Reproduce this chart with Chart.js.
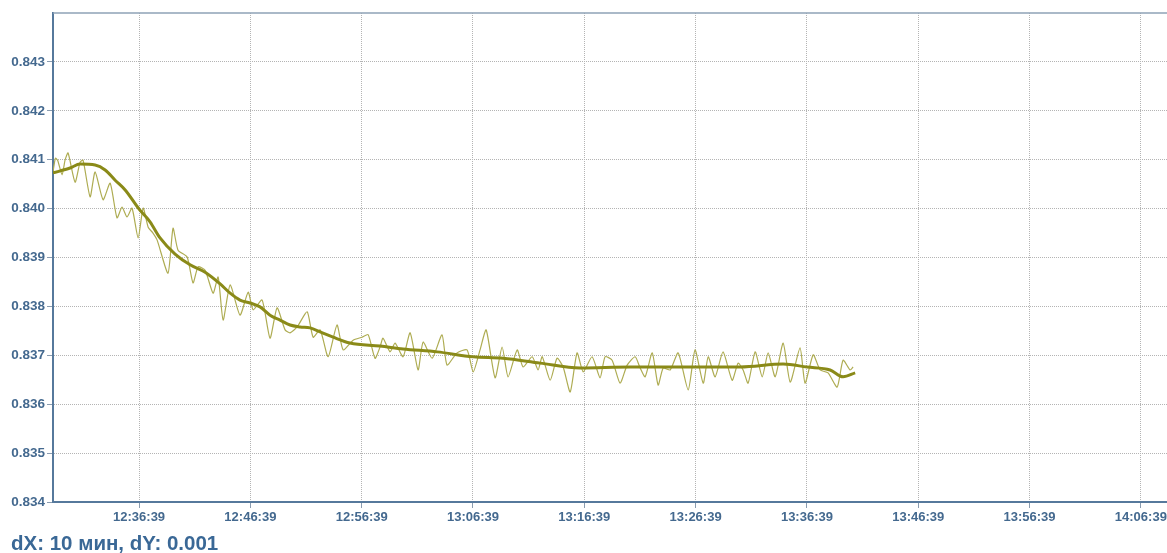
<!DOCTYPE html>
<html>
<head>
<meta charset="utf-8">
<script src="https://cdn.jsdelivr.net/npm/chart.js@4"></script>
<style>
  body { margin: 0; background: #fff; }
  #wrap { position: relative; width: 1167px; height: 553px; }
  #note {
    position: absolute; left: 11px; top: 532px;
    font: bold 20.5px "Liberation Sans", Arial, sans-serif; line-height: 22px;
    color: #3a6896;
  }
</style>
</head>
<body>
<div id="wrap">
  <canvas id="chart"></canvas>
  <div id="note">dX: 10 мин, dY: 0.001</div>
</div>
<script>
// axis range and tick labels
const xMin = '12:28:55';
const xMax = '14:09:00';
const xTickLabels = ['12:36:39', '12:46:39', '12:56:39', '13:06:39', '13:16:39',
  '13:26:39', '13:36:39', '13:46:39', '13:56:39', '14:06:39'];
const yTickLabels = ['0.834', '0.835', '0.836', '0.837', '0.838',
  '0.839', '0.840', '0.841', '0.842', '0.843'];
const yMin = 0.834;
const yMax = 0.844;

// raw measurements
const rawTimes = [
  '12:28:55','12:29:08','12:29:20','12:29:44','12:30:00','12:30:16','12:30:54','12:31:21','12:31:37','12:32:15',
  '12:32:42','12:33:25','12:34:03','12:34:40','12:35:07','12:35:34','12:36:01','12:36:34','12:37:01','12:37:28',
  '12:37:54','12:38:16','12:39:15','12:39:42','12:40:09','12:40:58','12:41:30','12:41:57','12:42:35','12:43:18',
  '12:43:45','12:44:12','12:44:50','12:45:43','12:46:27','12:46:54','12:47:42','12:48:25','12:49:03','12:49:46',
  '12:50:13','12:50:51','12:51:45','12:52:17','12:52:55','12:53:38','12:54:26','12:54:59','12:55:53','12:56:41',
  '12:57:14','12:57:51','12:58:18','12:58:34','12:59:12','12:59:39','13:00:22','13:01:00','13:01:43','13:02:10',
  '13:02:59','13:03:52','13:04:19','13:05:13','13:06:07','13:06:40','13:07:17','13:07:50','13:08:38','13:09:16',
  '13:09:48','13:10:37','13:11:09','13:11:58','13:12:30','13:12:52','13:13:35','13:14:12','13:14:45','13:15:23',
  '13:16:00','13:16:33','13:17:21','13:18:04','13:18:31','13:19:09','13:19:52','13:20:30','13:21:13','13:21:40',
  '13:22:07','13:22:45','13:23:17','13:23:44','13:24:22','13:25:05','13:25:59','13:26:36','13:27:20','13:27:47',
  '13:28:24','13:29:07','13:29:56','13:30:28','13:30:55','13:31:22','13:32:00','13:32:38','13:33:10','13:33:48',
  '13:34:31','13:35:09','13:36:02','13:36:29','13:37:13','13:37:50','13:38:33','13:39:22','13:39:54','13:40:32',
  '13:40:48'
];
const rawValues = [
  0.84075,0.84103,0.84099,0.84069,0.84099,0.84114,0.84054,0.84095,0.84099,0.84024,
  0.84075,0.84018,0.84052,0.83981,0.84003,0.83983,0.84001,0.83940,0.84001,0.83962,
  0.83950,0.83936,0.83868,0.83960,0.83915,0.83901,0.83848,0.83881,0.83874,0.83827,
  0.83860,0.83772,0.83844,0.83782,0.83829,0.83793,0.83813,0.83735,0.83797,0.83752,
  0.83746,0.83758,0.83789,0.83737,0.83752,0.83697,0.83762,0.83711,0.83731,0.83737,
  0.83742,0.83694,0.83717,0.83735,0.83707,0.83725,0.83697,0.83746,0.83670,0.83727,
  0.83694,0.83742,0.83680,0.83705,0.83711,0.83666,0.83711,0.83752,0.83654,0.83717,
  0.83656,0.83711,0.83676,0.83697,0.83670,0.83697,0.83649,0.83694,0.83676,0.83625,
  0.83705,0.83666,0.83697,0.83654,0.83697,0.83690,0.83643,0.83680,0.83697,0.83674,
  0.83656,0.83705,0.83639,0.83674,0.83670,0.83705,0.83629,0.83711,0.83643,0.83697,
  0.83656,0.83707,0.83649,0.83684,0.83670,0.83643,0.83707,0.83656,0.83705,0.83656,
  0.83725,0.83645,0.83715,0.83643,0.83701,0.83670,0.83664,0.83635,0.83690,0.83670,
  0.83676
];

// smoothed trend
const smoothTimes = [
  '12:28:55','12:30:27','12:31:21','12:32:42','12:33:36','12:34:30','12:35:24','12:36:39','12:37:38','12:38:32',
  '12:39:53','12:41:14','12:42:35','12:43:56','12:44:50','12:45:43','12:46:37','12:47:31','12:48:25','12:49:19',
  '12:50:13','12:51:07','12:52:01','12:52:55','12:54:05','12:55:36','12:58:18','13:00:22','13:03:26','13:06:40',
  '13:09:21','13:12:41','13:16:16','13:20:46','13:26:47','13:30:39','13:34:31','13:36:40','13:38:44','13:39:54',
  '13:40:59'
];
const smoothValues = [
  0.84073,0.84083,0.84091,0.84089,0.84079,0.84058,0.84038,0.83999,0.83973,0.83940,
  0.83907,0.83885,0.83870,0.83846,0.83827,0.83813,0.83807,0.83799,0.83782,0.83772,
  0.83762,0.83758,0.83756,0.83748,0.83737,0.83725,0.83719,0.83713,0.83707,0.83697,
  0.83694,0.83684,0.83674,0.83676,0.83676,0.83676,0.83682,0.83676,0.83670,0.83656,
  0.83664
];

const toSec = t => {
  const [h, m, s] = t.split(':').map(Number);
  return h * 3600 + m * 60 + s;
};
const pad = n => String(n).padStart(2, '0');
const fmtTime = v => `${pad(Math.floor(v / 3600))}:${pad(Math.floor(v / 60) % 60)}:${pad(v % 60)}`;

const labelColor = '#44698f';
const tickFont = { family: '"Liberation Sans", Arial, sans-serif', size: 13, weight: 'bold' };

// solid frame line along the top of the plot
const topLine = {
  id: 'topLine',
  afterDraw(chart) {
    const { ctx, chartArea } = chart;
    ctx.save();
    ctx.strokeStyle = '#8ea2b6';
    ctx.lineWidth = 1.5;
    ctx.beginPath();
    ctx.moveTo(chartArea.left, chartArea.top);
    ctx.lineTo(chartArea.right, chartArea.top);
    ctx.stroke();
    ctx.restore();
  }
};

new Chart(document.getElementById('chart'), {
  type: 'line',
  data: {
    datasets: [
      {
        label: 'smooth',
        data: smoothTimes.map((t, i) => ({ x: toSec(t), y: smoothValues[i] })),
        borderColor: '#8a8a18',
        borderWidth: 3,
        pointRadius: 0,
        cubicInterpolationMode: 'monotone'
      },
      {
        label: 'raw',
        data: rawTimes.map((t, i) => ({ x: toSec(t), y: rawValues[i] })),
        borderColor: '#aeac52',
        borderWidth: 1.2,
        pointRadius: 0,
        tension: 0.2
      }
    ]
  },
  options: {
    responsive: true,
    maintainAspectRatio: false,
    animation: false,
    layout: { padding: { top: 13, left: 0, right: 0, bottom: 0 } },
    plugins: { legend: { display: false }, tooltip: { enabled: false } },
    scales: {
      x: {
        type: 'linear',
        min: toSec(xMin),
        max: toSec(xMax),
        afterBuildTicks: s => { s.ticks = xTickLabels.map(t => ({ value: toSec(t) })); },
        afterFit: s => { s.height = 51; s.paddingLeft = 0; s.paddingRight = 0; },
        ticks: {
          callback: v => fmtTime(v),
          color: labelColor, font: tickFont, padding: 2,
          maxRotation: 0, autoSkip: false
        },
        grid: { color: '#b4b4b4', tickColor: '#8a9cb0', tickLength: 6 },
        border: { color: '#56799c', width: 2, dash: [1, 1] }
      },
      y: {
        min: yMin,
        max: yMax,
        afterBuildTicks: s => { s.ticks = yTickLabels.map(t => ({ value: Number(t) })); },
        afterFit: s => { s.width = 53; },
        ticks: {
          callback: v => yTickLabels.find(t => Math.abs(Number(t) - v) < 1e-9) || '',
          color: labelColor, font: { ...tickFont, size: 13.5 }, padding: 2
        },
        grid: { color: '#b4b4b4', tickColor: '#8a9cb0', tickLength: 6 },
        border: { color: '#56799c', width: 2, dash: [1, 1] }
      }
    }
  },
  plugins: [topLine]
});
</script>
</body>
</html>
